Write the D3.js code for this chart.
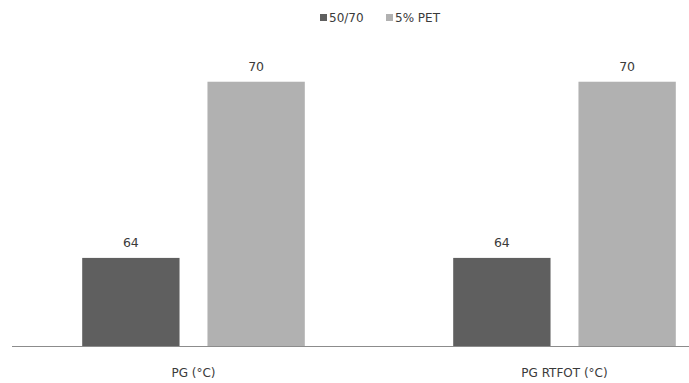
<!DOCTYPE html>
<html>
<head>
<meta charset="utf-8">
<script src="https://cdn.jsdelivr.net/npm/d3@7"></script>
<style>
  html, body { margin: 0; padding: 0; background: #fff; }
  svg { display: block; }
  text { font-family: "DejaVu Sans", sans-serif; fill: #3a3a3a; }
</style>
</head>
<body>
<svg id="chart" width="689" height="383"></svg>
<script>
// Performance grade of the binders
const categories = ["PG (°C)", "PG RTFOT (°C)"];
const seriesNames = ["50/70", "5% PET"];
const binder5070 = [64, 64];
const binderPET = [70, 70];
const seriesColors = ["#5f5f5f", "#b1b1b1"];

const seriesValues = [binder5070, binderPET];

const svg = d3.select("#chart");
const baseY = 346;

const x0 = d3.scaleBand().domain(categories).range([8, 750]).padding(0);
const bw = x0.bandwidth();
const x1 = d3.scaleBand().domain(seriesNames)
  .range([0.2 * bw, 0.8 * bw]).paddingInner(0.223).paddingOuter(0);
const y = d3.scaleLinear().domain([61, 72]).range([baseY, 23]);

// Bars with value labels
const groups = svg.selectAll("g.cat")
  .data(categories)
  .join("g")
  .attr("class", "cat")
  .attr("transform", d => `translate(${x0(d)},0)`);

groups.each(function (cat, ci) {
  const g = d3.select(this);
  seriesNames.forEach((s, si) => {
    const v = seriesValues[si][ci];
    g.append("rect")
      .attr("x", x1(s))
      .attr("y", y(v))
      .attr("width", x1.bandwidth())
      .attr("height", baseY - y(v))
      .attr("fill", seriesColors[si]);
    g.append("text")
      .attr("x", x1(s) + x1.bandwidth() / 2)
      .attr("y", y(v) - 10.5)
      .attr("text-anchor", "middle")
      .attr("font-size", 12.5)
      .text(v);
  });
});

// Category axis
const axis = svg.append("g").attr("transform", `translate(0,${baseY})`);
axis.append("line")
  .attr("x1", 12).attr("x2", 689)
  .attr("y1", 0.5).attr("y2", 0.5)
  .attr("stroke", "#8c8c8c").attr("stroke-width", 1.2);
axis.selectAll("text")
  .data(categories)
  .join("text")
  .attr("x", d => x0(d) + bw / 2)
  .attr("y", 31)
  .attr("text-anchor", "middle")
  .attr("font-size", 12)
  .text(d => d);

// Legend
const legendItems = [
  { name: seriesNames[0], color: seriesColors[0], x: 320 },
  { name: seriesNames[1], color: seriesColors[1], x: 386 }
];
const legend = svg.append("g");
legendItems.forEach(it => {
  legend.append("rect")
    .attr("x", it.x).attr("y", 14)
    .attr("width", 7).attr("height", 7)
    .attr("fill", it.color);
  legend.append("text")
    .attr("x", it.x + 9).attr("y", 22)
    .attr("font-size", 12)
    .text(it.name);
});
</script>
</body>
</html>
